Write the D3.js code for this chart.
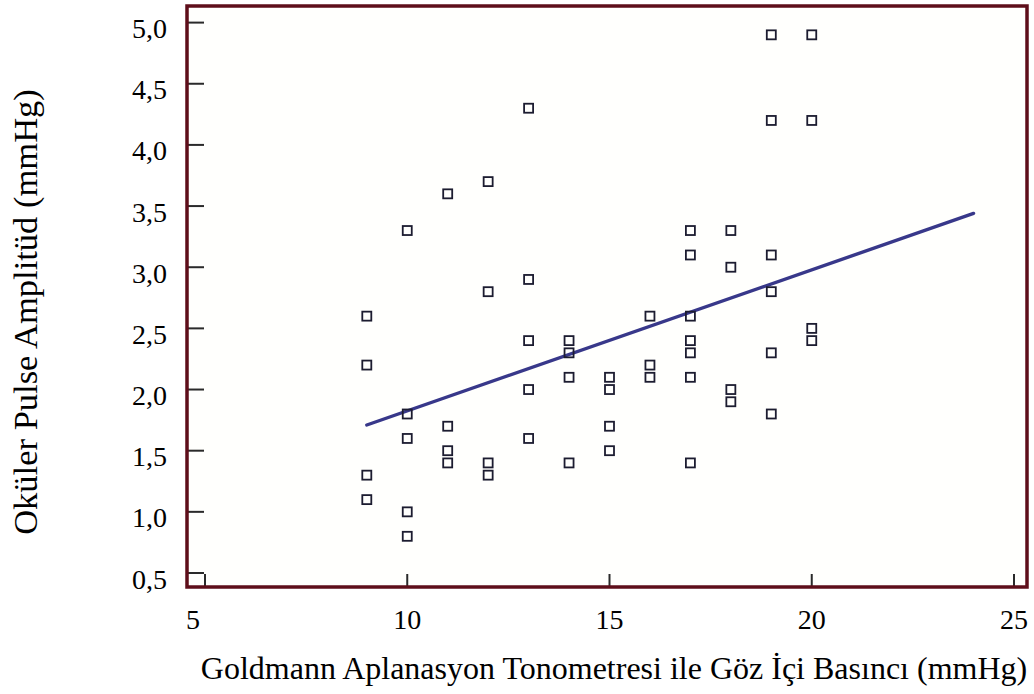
<!DOCTYPE html>
<html>
<head>
<meta charset="utf-8">
<script src="https://cdn.jsdelivr.net/npm/d3@7"></script>
<style>
  html, body { margin: 0; padding: 0; background: #ffffff; }
  svg { display: block; }
  text { font-family: "Liberation Serif", "Times New Roman", serif; fill: #000; }
</style>
</head>
<body>
<div id="chart"></div>
<script>
(function() {
    "use strict";

    // tonometry (mmHg) and pulse amplitude (mmHg), one entry per eye
    var gatValues = [
        9, 9, 9, 9,
        10, 10, 10, 10, 10,
        11, 11, 11, 11,
        12, 12, 12, 12,
        13, 13, 13, 13, 13,
        14, 14, 14, 14,
        15, 15, 15, 15,
        16, 16, 16,
        17, 17, 17, 17, 17, 17, 17,
        18, 18, 18, 18,
        19, 19, 19, 19, 19, 19,
        20, 20, 20, 20
    ];
    var opaValues = [
        2.6, 2.2, 1.3, 1.1,
        3.3, 1.8, 1.6, 1.0, 0.8,
        3.6, 1.7, 1.5, 1.4,
        3.7, 2.8, 1.4, 1.3,
        4.3, 2.9, 2.4, 2.0, 1.6,
        2.4, 2.3, 2.1, 1.4,
        2.1, 2.0, 1.7, 1.5,
        2.6, 2.2, 2.1,
        3.3, 3.1, 2.6, 2.4, 2.3, 2.1, 1.4,
        3.3, 3.0, 2.0, 1.9,
        4.9, 4.2, 3.1, 2.8, 2.3, 1.8,
        4.9, 4.2, 2.5, 2.4
    ];

    // fitted line end points
    var fitX = [9, 24];
    var fitY = [1.71, 3.44];

    var xTicks = [5, 10, 15, 20, 25];
    var yTicks = [0.5, 1.0, 1.5, 2.0, 2.5, 3.0, 3.5, 4.0, 4.5, 5.0];

    var xTitle = "Goldmann Aplanasyon Tonometresi ile Göz İçi Basıncı (mmHg)";
    var yTitle = "Oküler Pulse Amplitüd (mmHg)";

    var width = 1034, height = 694;
    var frame = { left: 187, top: 6, right: 1027, bottom: 587 };

    var x = d3.scaleLinear().domain([5, 25]).range([205, 1014]);
    var y = d3.scaleLinear().domain([0.5, 5.0]).range([573, 22.6]);
    var fmt = function(v) { return d3.format(".1f")(v).replace(".", ","); };

    var svg = d3.select("#chart").append("svg")
        .attr("width", width)
        .attr("height", height);

    svg.append("rect")
        .attr("x", frame.left).attr("y", frame.top)
        .attr("width", frame.right - frame.left)
        .attr("height", frame.bottom - frame.top)
        .attr("fill", "#fffffd");

    // inner ticks
    svg.append("g").selectAll("line")
        .data(yTicks).join("line")
        .attr("x1", frame.left).attr("x2", 204)
        .attr("y1", function(d) { return y(d); })
        .attr("y2", function(d) { return y(d); })
        .attr("stroke", "#2a2a2a").attr("stroke-width", 2);

    svg.append("g").selectAll("line")
        .data(xTicks).join("line")
        .attr("x1", function(d) { return x(d); })
        .attr("x2", function(d) { return x(d); })
        .attr("y1", frame.bottom).attr("y2", 574)
        .attr("stroke", "#2a2a2a").attr("stroke-width", 2);

    svg.append("rect")
        .attr("x", frame.left).attr("y", frame.top)
        .attr("width", frame.right - frame.left)
        .attr("height", frame.bottom - frame.top)
        .attr("fill", "none")
        .attr("stroke", "#5e0e1a")
        .attr("stroke-width", 3.5);

    // tick labels
    svg.append("g").selectAll("text")
        .data(yTicks).join("text")
        .attr("x", 167)
        .attr("y", function(d) { return y(d) + 6; })
        .attr("text-anchor", "end")
        .attr("dominant-baseline", "central")
        .style("font-size", "28px")
        .text(fmt);

    svg.append("g").selectAll("text")
        .data(xTicks).join("text")
        .attr("x", function(d, i) { return x(d) - (i === 0 ? 12 : 0); })
        .attr("y", 629)
        .attr("text-anchor", "middle")
        .style("font-size", "28px")
        .text(function(d) { return d; });

    // titles
    svg.append("text")
        .attr("x", 614).attr("y", 679)
        .attr("text-anchor", "middle")
        .style("font-size", "32px")
        .text(xTitle);

    svg.append("text")
        .attr("transform", "translate(37,312) rotate(-90)")
        .attr("text-anchor", "middle")
        .style("font-size", "34.5px")
        .text(yTitle);

    // fit line
    var fit = fitX.map(function(v, i) { return [v, fitY[i]]; });
    svg.append("path")
        .datum(fit)
        .attr("d", d3.line().x(function(d) { return x(d[0]); }).y(function(d) { return y(d[1]); }))
        .attr("fill", "none")
        .attr("stroke", "#38388a")
        .attr("stroke-width", 3.4)
        .attr("stroke-linecap", "round");

    // markers
    var pts = gatValues.map(function(v, i) { return { gat: v, opa: opaValues[i] }; });
    var s = 9;
    svg.append("g").selectAll("rect")
        .data(pts).join("rect")
        .attr("x", function(d) { return x(d.gat) - s / 2; })
        .attr("y", function(d) { return y(d.opa) - s / 2; })
        .attr("width", s).attr("height", s)
        .attr("fill", "none")
        .attr("stroke", "#1c1c30")
        .attr("stroke-width", 1.8);
})();
</script>
</body>
</html>
